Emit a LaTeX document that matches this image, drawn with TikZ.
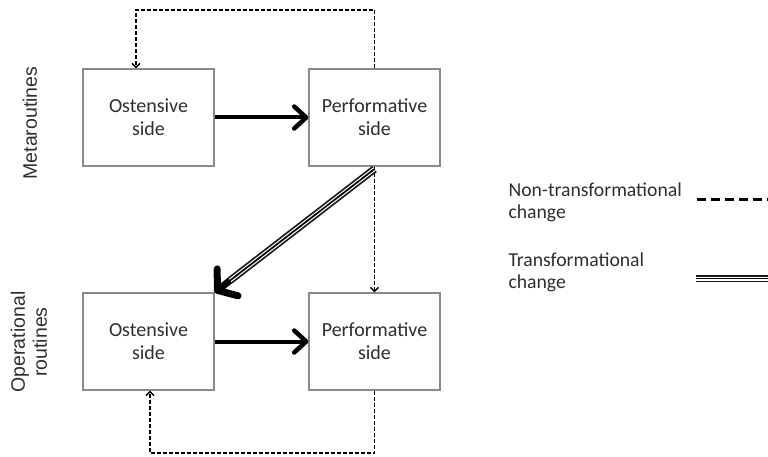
\documentclass[tikz,border=0pt]{standalone}
\usepackage{fontspec}
\setmainfont{Carlito}
\newfontfamily\labelfont{Liberation Sans}
\usetikzlibrary{arrows.meta}
\definecolor{boxline}{HTML}{8A8A8A}
\definecolor{textgray}{HTML}{2E2E2E}
\begin{document}
\begin{tikzpicture}[x=1pt,y=-1pt,
  side/.style={draw=boxline, line width=1.1pt, minimum width=131pt, minimum height=97pt,
    inner sep=0pt, align=center, text=textgray,
    font=\fontsize{20}{23}\selectfont},
  flow/.style={line width=4pt, -{Straight Barb[length=12pt,width=22pt,round,line width=4.5pt]}},
  loop/.style={line width=1.5pt, dash pattern=on 4pt off 2pt,
    -{Straight Barb[length=4pt,width=8pt,line width=1.4pt]}},
  triple/.style={line width=7.5pt, draw=black!90,
    postaction={draw=white, line width=4pt},
    postaction={draw=black, line width=1.7pt}},
  legendtext/.style={anchor=north west, align=left, text=textgray,
    font=\fontsize{19.7}{22.5}\selectfont},
  sidelabel/.style={rotate=90, align=center, text=textgray,
    font=\labelfont\fontsize{19.5}{22}\selectfont}]
\useasboundingbox (0,0) rectangle (768,457);

% routine boxes
\node[side] (mo) at (148.5,117.5) {Ostensive\\side};
\node[side] (mp) at (374.5,117.5) {Performative\\side};
\node[side] (oo) at (148.5,341.5) {Ostensive\\side};
\node[side] (op) at (374.5,341.5) {Performative\\side};

% level labels
\node[sidelabel] (meta) at (30,123) {Metaroutines};
\node[sidelabel] (oper) at (29,342) {Operational\\routines};

% ostensive -> performative
\draw[flow] (mo.east) -- (mp.west);
\draw[flow] (oo.east) -- (op.west);

% non-transformational loops
\coordinate (ttop) at (136,10);
\coordinate (tbot) at (150,453);
\draw[loop] (mp.north) |- (ttop) -- (ttop |- mo.north);
\draw[loop] (op.south) |- (tbot) -- (tbot |- oo.south);
\draw[loop] (mp.south) -- (op.north);

% transformational change
\coordinate (tstart) at (374.5,169);
\coordinate (tend) at (230,280.5);
\draw[triple] (tstart) -- (tend);
\draw[line width=7pt, -{Straight Barb[length=13pt,width=34pt,round,line width=7pt]}]
  (tend) -- (oo.north east);

% legend
\node[legendtext] (lnon) at (505,179) {Non-transformational\\change};
\node[legendtext] (ltra) at (505,249) {Transformational\\change};
\coordinate (dnA) at (697,200);
\coordinate (dnB) at (768,200);
\draw[line width=3pt, dash pattern=on 9pt off 5pt] (dnA) -- (dnB);
\coordinate (trA) at (696,278.5);
\coordinate (trB) at (768,278.5);
\draw[triple] (trA) -- (trB);
\end{tikzpicture}
\end{document}
